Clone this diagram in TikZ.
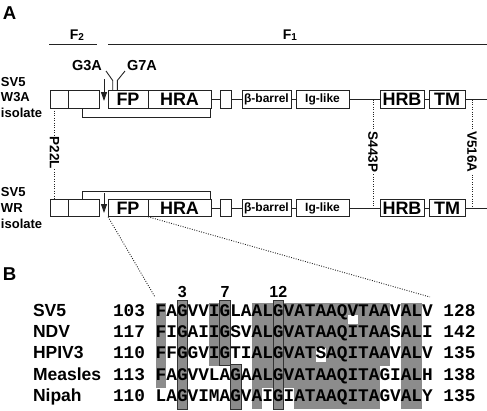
\documentclass[tikz,border=0pt]{standalone}
\usepackage{fontspec}
\setmainfont{Liberation Sans}
\newfontfamily\seqfont{Liberation Mono}
\usetikzlibrary{arrows.meta}
\definecolor{alg}{RGB}{140,140,140}
\definecolor{ln}{RGB}{35,35,35}
\newcommand\fsz[1]{\fontsize{#1}{#1}\selectfont}
\newcommand\Frow[2]{%
  \node[dom, minimum width=18pt] (b1#1) at (50,#2) {};
  \node[dom, minimum width=31pt] (b2#1) at (68,#2) {};
  \node[dom, minimum width=40pt] (fp#1) at (108,#2) {FP};
  \node[dom, minimum width=63pt] (hra#1) at (148,#2) {HRA};
  \node[dom, minimum width=11pt] (sb#1) at (220,#2) {};
  \node[domsm, minimum width=49pt] (bb#1) at (242,#2) {β-barrel};
  \node[domsm, minimum width=53pt] (ig#1) at (296,#2) {Ig-like};
  \node[dom, minimum width=44pt] (hrb#1) at (380,#2) {HRB};
  \node[dom, minimum width=36pt] (tm#1) at (429,#2) {TM};
  \coordinate (end#1) at (487,#2);
  \draw[conn] (hra#1) -- (sb#1);
  \draw[conn] (sb#1) -- (bb#1);
  \draw[conn] (bb#1) -- (ig#1);
  \draw[conn] (ig#1) -- (hrb#1);
  \draw[conn] (hrb#1) -- (tm#1);
  \draw[conn] (tm#1) -- (end#1);
}
\newcommand\gblk[4]{\fill[alg] ({155.7+10.66*#1},{302.5+21.3*#3}) rectangle ({155.7+10.66*(#2+1)},{302.5+21.3*(#4+1)});}
\newcommand\gbox[3]{\filldraw[abox] ({155.7+10.66*#1},#2) rectangle ({155.7+10.66*(#1+1)},#3);}
\begin{document}
\begin{tikzpicture}[x=1pt,y=-1pt,
  every node/.style={inner sep=0pt, outer sep=0pt},
  conn/.style={draw=ln, line width=0.9pt},
  dom/.style={draw=ln, line width=0.9pt, minimum height=17.5pt, anchor=west, font=\bfseries\fsz{18}},
  domsm/.style={dom, font=\bfseries\fsz{12}},
  dotl/.style={draw=ln, line width=0.9pt, dash pattern=on 0.9pt off 1.5pt},
  mut/.style={font=\bfseries\fsz{13.5}, rotate=-90},
  lbl/.style={font=\bfseries\fsz{13}, anchor=west},
  big/.style={font=\bfseries\fsz{18.6}},
  flab/.style={font=\bfseries\fsz{14}},
  gl/.style={font=\bfseries\fsz{14.5}},
  seq/.style={font=\seqfont\bfseries\fsz{17.764}, anchor=base west},
  spec/.style={font=\bfseries\fsz{17.5}, anchor=base west},
  cnum/.style={font=\bfseries\fsz{16}},
  cut/.style={-{Triangle[length=9pt,width=6pt]}, draw=ln, line width=0.9pt},
  abox/.style={fill=alg, draw=black!80, line width=0.8pt}]
\useasboundingbox (0,0) rectangle (487,410);

% panel labels
\node[big] (A) at (9.5,13.5) {A};
\node[big] (B) at (9.5,274) {B};

% F2 / F1
\coordinate (f2a) at (49,44); \coordinate (f2b) at (97,44);
\coordinate (f1a) at (108,44); \coordinate (f1b) at (487,44);
\draw[conn] (f2a) -- (f2b);
\draw[conn] (f1a) -- (f1b);
\node[flab] (F2) at (77,35) {F\raisebox{-1.5pt}{\fsz{10}2}};
\node[flab] (F1) at (290,35) {F\raisebox{-1.5pt}{\fsz{10}1}};

% rows
\Frow{t}{99.5}
\Frow{b}{208}

% row labels
\node[lbl] (lt1) at (1,82) {SV5};
\node[lbl] (lt2) at (1,97.5) {W3A};
\node[lbl] (lt3) at (1,113) {isolate};
\node[lbl] (lb1) at (1,192.5) {SV5};
\node[lbl] (lb2) at (1,208) {WR};
\node[lbl] (lb3) at (1,223.5) {isolate};

% cleavage arrows
\coordinate (at0) at (104,79); \coordinate (at1) at (104,101);
\draw[cut] (at0) -- (at1);
\coordinate (ab0) at (104,193); \coordinate (ab1) at (104,213);
\draw[cut] (ab0) -- (ab1);

% G3A / G7A
\node[gl] (g3) at (87,66) {G3A};
\node[gl] (g7) at (142,66) {G7A};
\draw[conn] (106,71) -- (112.7,80.5) -- (112.7,90.8);
\draw[conn] (125,71) -- (117.3,80.5) -- (117.3,90.8);

% disulfide brackets
\draw[conn] (82,108.2) -- (82,117) -- (210,117) -- (210,108.2);
\draw[conn] (82,199.3) -- (82,191) -- (210,191) -- (210,199.3);

% mutations
\node[mut] (p22l) at (54.5,153) {P22L};
\draw[dotl] (b1t.south -| p22l.center) -- (p22l.west);
\draw[dotl] (p22l.east) -- (b1b.north -| p22l.center);
\node[mut] (s443p) at (373,152) {S443P};
\coordinate (st) at (373,99.5); \coordinate (sbm) at (373,208);
\draw[dotl, shorten >=2pt] (st) -- (s443p.west);
\draw[dotl, shorten <=2pt] (s443p.east) -- (sbm);
\node[mut] (v516a) at (472,152) {V516A};
\coordinate (vt) at (472,99.5); \coordinate (vbm) at (472,208);
\draw[dotl, shorten >=2pt] (vt) -- (v516a.west);
\draw[dotl, shorten <=2pt] (v516a.east) -- (vbm);

% zoom lines
\coordinate (z0) at (155,297); \coordinate (z1) at (430,297);
\draw[dotl] (fpb.south west) -- (z0);
\draw[dotl] (hrab.south west) -- (z1);

% alignment shading
\gblk{0}{0}{0}{3}
\gblk{5}{5}{0}{2}
\gblk{9}{21}{0}{2}
\gblk{9}{20}{3}{3}
\gblk{9}{9}{4}{4}
\gblk{13}{20}{4}{4}
\gblk{23}{24}{0}{4}
\fill[white] ({155.7+10.66*18},314.5) rectangle ({155.7+10.66*19},323.8);
\fill[white] ({155.7+10.66*15},348.3) rectangle ({155.7+10.66*16},361.7);
\gbox{2}{300}{409}
\gbox{6}{300}{365}
\gbox{7}{364}{409}
\gbox{11}{300}{409}

% column numbers
\node[cnum] (k3) at ({155.7+10.66*2.5},292) {3};
\node[cnum] (k7) at ({155.7+10.66*6.5},292) {7};
\node[cnum] (k12) at ({155.7+10.66*11.5},292) {12};

% species and sequences
\node[spec] (n0) at (33,316) {SV5};
\node[spec] (n1) at (33,337.4) {NDV};
\node[spec] (n2) at (33,358.8) {HPIV3};
\node[spec] (n3) at (33,380.2) {Measles};
\node[spec] (n4) at (33,401.6) {Nipah};
\node[seq] (s0) at (113.06,316) {103 FAGVVIGLAALGVATAAQVTAAVALV 128};
\node[seq] (s1) at (113.06,337.4) {117 FIGAIIGSVALGVATAAQITAASALI 142};
\node[seq] (s2) at (113.06,358.8) {110 FFGGVIGTIALGVATSAQITAAVALV 135};
\node[seq] (s3) at (113.06,380.2) {113 FAGVVLAGAALGVATAAQITAGIALH 138};
\node[seq] (s4) at (113.06,401.6) {110 LAGVIMAGVAIGIATAAQITAGVALY 135};
\end{tikzpicture}
\end{document}
